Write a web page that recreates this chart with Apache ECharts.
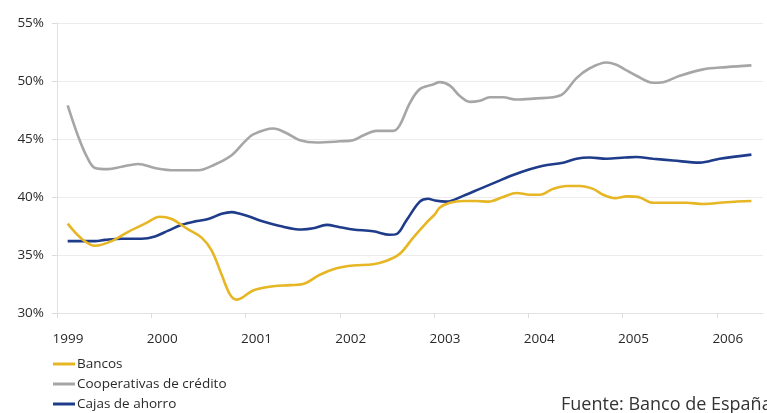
<!DOCTYPE html>
<html>
<head>
<meta charset="utf-8">
<script src="https://cdn.jsdelivr.net/npm/echarts@6/dist/echarts.min.js"></script>
<style>
  html, body { margin: 0; padding: 0; background: #fff; }
  #chart { width: 767px; height: 413px; }
</style>
</head>
<body>
<div id="chart"></div>
<script>
// Cuota de mercado por tipo de entidad (%), fecha en años decimales
const years = [1999, 2000, 2001, 2002, 2003, 2004, 2005, 2006];
const seriesNames = ['Bancos', 'Cooperativas de crédito', 'Cajas de ahorro'];
const sourceText = 'Fuente: Banco de España';

const bancos = [
  [1999.113, 37.7], [1999.262, 36.4], [1999.403, 35.8], [1999.580, 36.2],
  [1999.756, 37.0], [1999.933, 37.7], [2000.092, 38.3], [2000.216, 38.1],
  [2000.392, 37.2], [2000.534, 36.5], [2000.640, 35.4], [2000.747, 33.3],
  [2000.835, 31.6], [2000.906, 31.15], [2000.960, 31.3], [2001.029, 31.7],
  [2001.100, 32.0], [2001.294, 32.3], [2001.471, 32.4], [2001.612, 32.5],
  [2001.789, 33.3], [2001.966, 33.85], [2002.142, 34.1], [2002.354, 34.2],
  [2002.496, 34.5], [2002.637, 35.1], [2002.779, 36.5], [2002.921, 37.8],
  [2003.008, 38.5], [2003.062, 39.1], [2003.168, 39.5], [2003.309, 39.65],
  [2003.451, 39.65], [2003.574, 39.6], [2003.733, 40.0], [2003.875, 40.35],
  [2004.016, 40.2], [2004.122, 40.2], [2004.263, 40.7], [2004.405, 40.95],
  [2004.546, 40.95], [2004.687, 40.7], [2004.793, 40.2], [2004.917, 39.9],
  [2005.050, 40.05], [2005.182, 39.96], [2005.323, 39.5], [2005.500, 39.5],
  [2005.678, 39.5], [2005.854, 39.4], [2006.102, 39.55], [2006.367, 39.65]
];

const cooperativas = [
  [1999.113, 47.9], [1999.226, 45.2], [1999.315, 43.5], [1999.403, 42.5],
  [1999.541, 42.4], [1999.686, 42.6], [1999.862, 42.85], [2000.039, 42.5],
  [2000.251, 42.3], [2000.498, 42.3], [2000.675, 42.8], [2000.853, 43.6],
  [2000.994, 44.8], [2001.082, 45.4], [2001.294, 45.9], [2001.436, 45.5],
  [2001.577, 44.9], [2001.754, 44.7], [2002.001, 44.8], [2002.142, 44.9],
  [2002.248, 45.3], [2002.390, 45.7], [2002.566, 45.7], [2002.637, 46.2],
  [2002.743, 48.1], [2002.849, 49.3], [2002.990, 49.7], [2003.062, 49.9],
  [2003.168, 49.6], [2003.274, 48.7], [2003.380, 48.2], [2003.486, 48.3],
  [2003.592, 48.6], [2003.733, 48.6], [2003.875, 48.4], [2004.087, 48.5],
  [2004.263, 48.6], [2004.369, 48.9], [2004.511, 50.25], [2004.652, 51.1],
  [2004.829, 51.6], [2004.935, 51.4], [2005.023, 51.0], [2005.147, 50.45],
  [2005.323, 49.85], [2005.429, 49.9], [2005.607, 50.45], [2005.854, 51.0],
  [2006.102, 51.2], [2006.367, 51.35]
];

const cajas = [
  [1999.113, 36.2], [1999.403, 36.2], [1999.509, 36.3], [1999.686, 36.4],
  [1999.898, 36.4], [2000.039, 36.6], [2000.180, 37.1], [2000.322, 37.6],
  [2000.463, 37.9], [2000.604, 38.1], [2000.747, 38.55], [2000.853, 38.7],
  [2000.941, 38.55], [2001.047, 38.3], [2001.153, 37.97], [2001.365, 37.5],
  [2001.595, 37.2], [2001.718, 37.3], [2001.860, 37.6], [2002.001, 37.4],
  [2002.142, 37.2], [2002.354, 37.05], [2002.531, 36.75], [2002.602, 36.8],
  [2002.708, 38.0], [2002.849, 39.6], [2002.937, 39.85], [2003.008, 39.7],
  [2003.133, 39.6], [2003.309, 40.1], [2003.486, 40.7], [2003.663, 41.3],
  [2003.839, 41.9], [2004.016, 42.4], [2004.157, 42.7], [2004.369, 42.96],
  [2004.511, 43.3], [2004.652, 43.4], [2004.829, 43.3], [2005.023, 43.4],
  [2005.147, 43.45], [2005.323, 43.3], [2005.535, 43.15], [2005.819, 42.96],
  [2006.031, 43.3], [2006.367, 43.65]
];

const yTicks = [30, 35, 40, 45, 50, 55];

const FONT = '"Open Sans", "Noto Sans", sans-serif';
const colors = ['#E6B625', '#A6A6A6', '#1F3C8A'];

const chart = echarts.init(document.getElementById('chart'), null, { renderer: 'canvas' });

function lineSeries(name, data, color) {
  return {
    name: name,
    type: 'line',
    data: data,
    smooth: 0.35,
    showSymbol: false,
    symbol: 'none',
    lineStyle: { color: color, width: 2.6 },
    itemStyle: { color: color },
    animation: false
  };
}

chart.setOption({
  animation: false,
  color: colors,
  grid: { left: 57, right: 4, top: 23, bottom: 100, containLabel: false },
  xAxis: {
    type: 'value',
    min: years[0],
    max: 2006.49,
    interval: 1,
    axisLine: { show: true, lineStyle: { color: '#e2e2e2', width: 1 } },
    axisTick: { show: true, length: 5, lineStyle: { color: '#dcdcdc' }, customValues: years },
    splitLine: { show: false },
    axisLabel: {
      customValues: years,
      formatter: function (v) { return String(Math.round(v)); },
      color: '#2a2a2a',
      fontFamily: FONT,
      fontSize: 13.5,
      margin: 19,
      padding: [0, 0, 0, 22]
    }
  },
  yAxis: {
    type: 'value',
    min: yTicks[0],
    max: yTicks[yTicks.length - 1],
    interval: 5,
    axisLine: { show: true, lineStyle: { color: '#e2e2e2', width: 1 } },
    axisTick: { show: true, length: 5, lineStyle: { color: '#dcdcdc' } },
    splitLine: { show: true, lineStyle: { color: '#ececec', width: 1 } },
    axisLabel: {
      formatter: '{value}%',
      color: '#2a2a2a',
      fontFamily: FONT,
      fontSize: 13.5,
      margin: 13
    }
  },
  legend: {
    orient: 'vertical',
    left: 53,
    top: 357,
    bottom: 0,
    padding: 0,
    itemWidth: 22,
    itemHeight: 3,
    itemGap: 6,
    icon: 'rect',
    data: seriesNames,
    textStyle: {
      color: '#2a2a2a', fontFamily: FONT, fontSize: 13.5, lineHeight: 14,
      padding: [0, 0, 0, -3]
    }
  },
  graphic: [{
    type: 'text',
    left: 561,
    top: 396,
    style: { text: sourceText, fill: '#333', fontFamily: FONT, fontSize: 18 }
  }],
  series: [
    lineSeries(seriesNames[1], cooperativas, colors[1]),
    lineSeries(seriesNames[2], cajas, colors[2]),
    lineSeries(seriesNames[0], bancos, colors[0])
  ]
});
</script>
</body>
</html>
